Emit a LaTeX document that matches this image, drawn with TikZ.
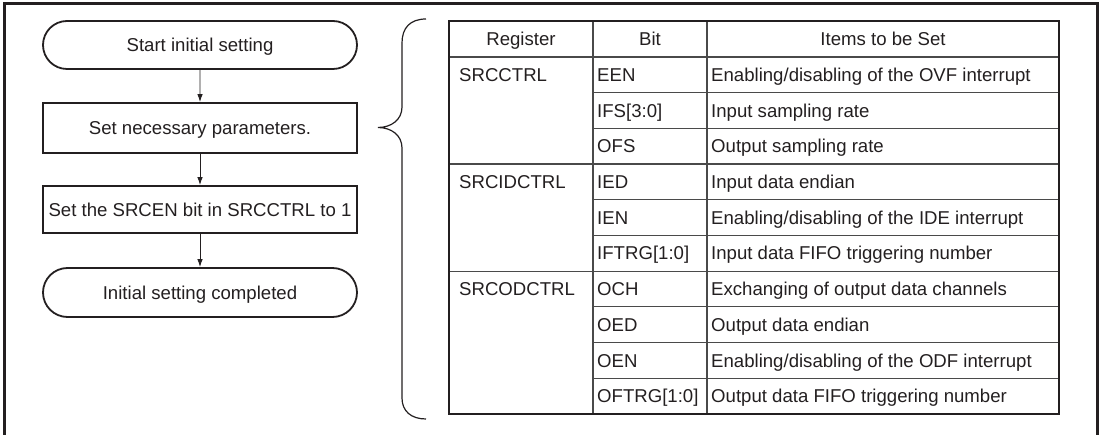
\documentclass[tikz,border=0pt]{standalone}
\usepackage{fontspec}
\setmainfont{Liberation Sans}
\usetikzlibrary{arrows.meta,shapes.misc}
\definecolor{ink}{HTML}{231F20}
\definecolor{gridc}{HTML}{4A4A4A}
\begin{document}
\begin{tikzpicture}[x=1pt,y=-1pt,
  every node/.style={font=\fontsize{18.6pt}{22pt}\selectfont, text=ink, text height=13.3pt, text depth=0pt, inner sep=0pt},
  term/.style={draw=ink, line width=1.8pt, rounded rectangle, minimum width=314pt},
  proc/.style={draw=ink, line width=1.8pt, rectangle, minimum width=314pt},
  flow/.style={draw=ink, line width=0.9pt, -{Latex[length=8pt,width=5.5pt]}},
  cell/.style={anchor=west},
  head/.style={anchor=center},
  gridline/.style={draw=gridc, line width=1.2pt},
]
\useasboundingbox (0,0) rectangle (1102,435);
% outer frame (bottom edge lies outside the picture)
\draw[ink, line width=2.5pt] (4.5,445) -- (4.5,3.5) -- (1097.5,3.5) -- (1097.5,445);

% flowchart
\node[term, minimum height=48pt] (start) at (200,45) {Start initial setting};
\node[proc, minimum height=50pt] (param) at (200,128) {Set necessary parameters.};
\node[proc, minimum height=47pt] (srcen) at (200,209.5) {Set the SRCEN bit in SRCCTRL to 1};
\node[term, minimum height=49pt] (done) at (200,292.5) {Initial setting completed};
\draw[flow] (start) -- (param);
\draw[flow] (param) -- (srcen);
\draw[flow] (srcen) -- (done);

% brace
\coordinate (btop) at (426,19);
\coordinate (btip) at (378,127.5);
\coordinate (bbot) at (426,419);
\draw[ink, line width=1.2pt] (btop) .. controls (410,19) and (402,28) .. (402,43)
  -- (402,107) .. controls (402,120) and (391,127.5) .. (btip)
  .. controls (391,127.5) and (402,135) .. (402,148)
  -- (402,398) .. controls (402,411) and (411,419) .. (bbot);

% table grid
\foreach \y in {92.7,128.4,199.8,235.5,306.9,342.6,378.3}
  \draw[gridline] (593,\y) -- (1059,\y);
\foreach \y in {57,164.1,271.2}
  \draw[gridline] (449,\y) -- (1059,\y);
\draw[gridline] (593,21) -- (593,414);
\draw[gridline] (707,21) -- (707,414);
\draw[ink, line width=2pt] (449,21) rectangle (1059,414);

% header
\node[head] (hreg) at (521,39) {Register};
\node[head] (hbit) at (650,39) {Bit};
\node[head] (hitem) at (883,39) {Items to be Set};

% registers
\node[cell] (r1) at (459,74.85) {SRCCTRL};
\node[cell] (r2) at (459,181.95) {SRCIDCTRL};
\node[cell] (r3) at (459,289.05) {SRCODCTRL};

% bits
\node[cell] (b1) at (597,74.85) {EEN};
\node[cell] (b2) at (597,110.55) {IFS[3:0]};
\node[cell] (b3) at (597,146.25) {OFS};
\node[cell] (b4) at (597,181.95) {IED};
\node[cell] (b5) at (597,217.65) {IEN};
\node[cell] (b6) at (597,253.35) {IFTRG[1:0]};
\node[cell] (b7) at (597,289.05) {OCH};
\node[cell] (b8) at (597,324.75) {OED};
\node[cell] (b9) at (597,360.45) {OEN};
\node[cell] (b10) at (597,396.15) {OFTRG[1:0]};

% items
\node[cell] (i1) at (711,74.85) {Enabling/disabling of the OVF interrupt};
\node[cell] (i2) at (711,110.55) {Input sampling rate};
\node[cell] (i3) at (711,146.25) {Output sampling rate};
\node[cell] (i4) at (711,181.95) {Input data endian};
\node[cell] (i5) at (711,217.65) {Enabling/disabling of the IDE interrupt};
\node[cell] (i6) at (711,253.35) {Input data FIFO triggering number};
\node[cell] (i7) at (711,289.05) {Exchanging of output data channels};
\node[cell] (i8) at (711,324.75) {Output data endian};
\node[cell] (i9) at (711,360.45) {Enabling/disabling of the ODF interrupt};
\node[cell] (i10) at (711,396.15) {Output data FIFO triggering number};
\end{tikzpicture}
\end{document}
